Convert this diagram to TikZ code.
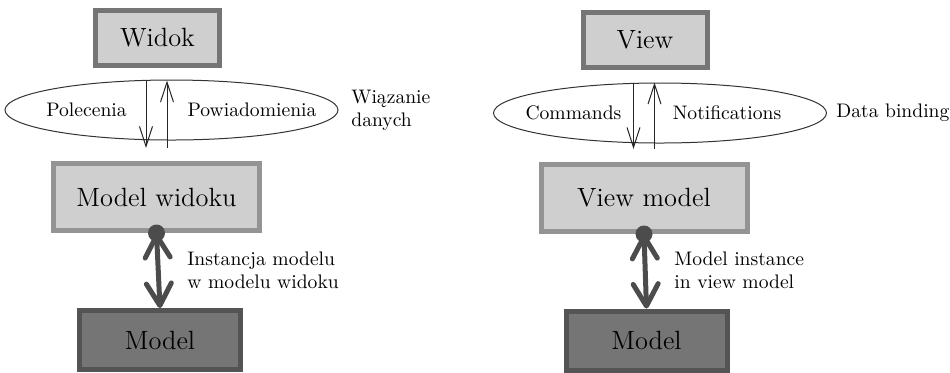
\documentclass[tikz,border=0pt]{standalone}
\usepackage{tikz}
\usepackage{xcolor}
\usetikzlibrary{arrows.meta,shapes.geometric}

\definecolor{boxfill}{gray}{0.81}
\definecolor{viewedge}{gray}{0.46}
\definecolor{vmedge}{gray}{0.58}
\definecolor{modelfill}{gray}{0.46}
\definecolor{modeledge}{gray}{0.33}
\definecolor{arrowcol}{gray}{0.30}

\tikzset{
	bigtext/.style={font=\fontsize{13.2}{16}\selectfont},
	smalltext/.style={font=\fontsize{9.8}{11.5}\selectfont, inner sep=0pt},
	viewbox/.style={bigtext, draw=viewedge, fill=boxfill, line width=2.5pt, minimum width=62pt, minimum height=27.5pt},
	vmbox/.style={bigtext, draw=vmedge, fill=boxfill, line width=2.5pt, minimum width=103pt, minimum height=33.5pt},
	modelbox/.style={bigtext, draw=modeledge, fill=modelfill, line width=2.5pt, minimum width=80.5pt, minimum height=29.5pt},
	binding/.style={ellipse, draw=black!80, line width=0.5pt, minimum width=166.5pt, minimum height=30pt},
	thinarrow/.style={draw=black!85, line width=0.5pt, -{Straight Barb[length=10pt,width=6.5pt]}, shorten <=6.5pt, shorten >=6.5pt},
	thickarrow/.style={draw=arrowcol, line width=2.5pt, {Straight Barb[length=11pt,width=12.5pt,round]}-{Straight Barb[length=11pt,width=12.5pt,round]}},
	dot/.style={circle, fill=arrowcol, inner sep=0pt, minimum size=8.5pt}
}

\begin{document}
\begin{tikzpicture}[x=0.5pt,y=-0.5pt]
				\useasboundingbox (0,0) rectangle (950,372);
				% left: Polish
				\node[binding] (bind) at (171.5,110) {};
				\node[viewbox] (widok) at (157.5,37.5) {Widok};
				\node[vmbox] (vm) at (156.5,197) {Model widoku};
				\node[modelbox] (model) at (160,340) {Model};
				\node[smalltext] (cmd) at (86.5,110) {Polecenia};
				\node[smalltext] (notif) at (252,110) {Powiadomienia};
				\node[smalltext, anchor=west, align=left] (bindlbl) at (351,110) {Wiązanie\\danych};
				\draw[thinarrow] ([xshift=-5.75pt]widok.south) -- ([xshift=-5.75pt]widok.south |- vm.north);
				\draw[thinarrow] ([xshift=4.75pt]widok.south |- vm.north) -- ([xshift=4.75pt]widok.south);
				\node[dot] (d) at (vm.south) {};
				\draw[thickarrow] (d.center) -- (model.north);
				\node[smalltext, anchor=west, align=left] (inst) at (187,270) {Instancja modelu\\w modelu widoku};
				% right: English
				\node[binding] (bind2) at (660,113) {};
				\node[viewbox] (view) at (645,39.5) {View};
				\node[vmbox] (vm2) at (644,198) {View model};
				\node[modelbox] (model2) at (646.5,340.5) {Model};
				\node[smalltext] (cmd2) at (573.5,113) {Commands};
				\node[smalltext] (notif2) at (727,113) {Notifications};
				\node[smalltext, anchor=west] (bindlbl2) at (836,113) {Data binding};
				\draw[thinarrow] ([xshift=-5.75pt]view.south) -- ([xshift=-5.75pt]view.south |- vm2.north);
				\draw[thinarrow] ([xshift=4.75pt]view.south |- vm2.north) -- ([xshift=4.75pt]view.south);
				\node[dot] (d2) at (vm2.south) {};
				\draw[thickarrow] (d2.center) -- (model2.north);
				\node[smalltext, anchor=west, align=left] (inst2) at (674,270) {Model instance\\in view model};
			\end{tikzpicture}
\end{document}
